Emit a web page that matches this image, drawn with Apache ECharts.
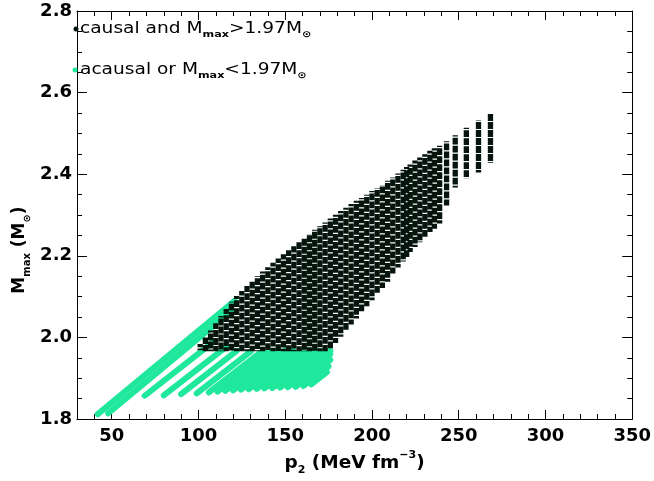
<!DOCTYPE html>
<html><head><meta charset="utf-8">
<script src="https://cdn.jsdelivr.net/npm/echarts@6/dist/echarts.min.js"></script>
<style>html,body{margin:0;padding:0;background:#fff}#c{width:654px;height:481px}</style>
</head><body><div id="c"></div>
<script>
// ---- data ----
const xTickLabels = [50, 100, 150, 200, 250, 300, 350];
const yTickLabels = [1.8, 2.0, 2.2, 2.4, 2.6, 2.8];

// green (acausal or Mmax<1.97) stripes: polylines of [p2, Mmax]
const greenStripes = [
  [[42, 1.812], [121, 2.090]],
  [[48, 1.814], [119, 2.065]],
  [[69, 1.857], [109, 1.990]],
  [[80, 1.858], [116, 1.977]],
  [[90, 1.861], [122, 1.967]],
  [[99, 1.863], [130, 1.965]],
  [[106, 1.865], [137, 1.967]],
  [[111, 1.867], [141, 1.968]],
  [[115.5, 1.869], [145.5, 1.968]],
  [[120, 1.870], [150, 1.968]],
  [[124.5, 1.872], [154.5, 1.968]],
  [[129, 1.873], [159, 1.968]],
  [[133.5, 1.874], [163.5, 1.968]],
  [[138, 1.875], [168, 1.968]],
  [[142.5, 1.876], [172.5, 1.968]],
  [[147, 1.877], [176, 1.968]],
  [[151.5, 1.878], [176, 1.959]],
  [[156, 1.879], [176, 1.945]],
  [[160.5, 1.881], [175, 1.929]],
  [[165, 1.885], [174, 1.915]]
];

// black (causal and Mmax>1.97) point columns: [p2, lowest Mmax, highest Mmax]
const causalP2 = [101,104,107,110,113,116,119,122,125,128,131,134,137,140,143,146,149,152,155,158,161,164,167,170,173,176,179,182,185,188,191,194,197,200,203,206,209,212,215,218,220,222,224.8,227.6,230.5,233.4,236,239,243,248,254.4,261.4,268.3];
const causalLow = [1.972,1.970,1.970,1.970,1.970,1.970,1.970,1.970,1.970,1.970,1.970,1.970,1.970,1.970,1.970,1.970,1.970,1.970,1.970,1.970,1.970,1.970,1.970,1.970,1.970,1.975,1.990,2.005,2.020,2.035,2.050,2.065,2.080,2.095,2.110,2.125,2.140,2.160,2.175,2.190,2.200,2.213,2.225,2.237,2.250,2.262,2.270,2.283,2.327,2.371,2.393,2.408,2.432];
const causalHigh = [1.980,1.996,2.013,2.031,2.049,2.066,2.084,2.098,2.110,2.122,2.134,2.146,2.158,2.168,2.179,2.190,2.200,2.210,2.220,2.230,2.240,2.250,2.260,2.269,2.278,2.288,2.297,2.306,2.314,2.323,2.331,2.338,2.346,2.355,2.362,2.370,2.380,2.388,2.398,2.407,2.414,2.420,2.430,2.437,2.445,2.454,2.460,2.466,2.477,2.492,2.510,2.528,2.546];

// ---- chart ----
const GREEN = '#1fe89c';
const DARK = '#05140d';
const FONT = 'DejaVu Sans';

const columns = causalP2.map((p, i) => [p, causalLow[i], causalHigh[i]]);

const series = greenStripes.map(s => ({
  type: 'line', name: 'acausal', data: s, symbol: 'none', silent: true,
  animation: false, z: 2, xAxisIndex: 0, yAxisIndex: 0,
  lineStyle: { color: GREEN, width: 6, cap: 'round' }
}));
series.push({
  type: 'custom', name: 'causal', data: columns, animation: false, silent: true, z: 3,
  xAxisIndex: 0, yAxisIndex: 0,
  renderItem: function (params, api) {
    const a = api.coord([api.value(0), api.value(1)]);
    const b = api.coord([api.value(0), api.value(2)]);
    const P = 8;
    return {
      type: 'line',
      shape: { x1: a[0], y1: a[1] + 1.5, x2: b[0], y2: b[1] - 1.5 },
      style: { stroke: DARK, lineWidth: 5.3, lineDash: [6.8, 1.2], lineDashOffset: -((a[1] + 0.67 * a[0]) % P) }
    };
  }
});

const tickLabelStyle = { fontFamily: FONT, fontWeight: 'bold', fontSize: 18, color: '#000' };
const lineStyle = { color: '#000', width: 1 };

function xAx(pos, major, labels) {
  return {
    type: 'value', min: 30, max: 350, interval: 10, position: pos,
    axisLine: { show: !major, onZero: false, lineStyle: lineStyle },
    axisTick: major ? { show: true, inside: true, length: 9, customValues: xTickLabels, lineStyle: lineStyle }
                    : { show: true, inside: true, length: 5, lineStyle: lineStyle },
    axisLabel: labels ? Object.assign({ show: true, margin: 8, customValues: xTickLabels, formatter: v => String(v) }, tickLabelStyle) : { show: false },
    splitLine: { show: false },
    name: labels ? '{t|p}{s|2}{t| (MeV fm}{u|−3}{t|)}' : '',
    nameLocation: 'middle', nameGap: 31,
    nameTextStyle: {
      rich: {
        t: { fontFamily: FONT, fontSize: 18.5, fontWeight: 'bold', color: '#000', lineHeight: 26, verticalAlign: 'middle' },
        s: { fontFamily: FONT, fontSize: 11, fontWeight: 'bold', color: '#000', lineHeight: 26, verticalAlign: 'bottom' },
        u: { fontFamily: FONT, fontSize: 11, fontWeight: 'bold', color: '#000', lineHeight: 26, verticalAlign: 'top' }
      }
    }
  };
}
function yAx(pos, major, labels) {
  return {
    type: 'value', min: 1.8, max: 2.8, interval: 0.05, position: pos,
    axisLine: { show: !major, onZero: false, lineStyle: lineStyle },
    axisTick: major ? { show: true, inside: true, length: 10, customValues: yTickLabels, lineStyle: lineStyle }
                    : { show: true, inside: true, length: 5, lineStyle: lineStyle },
    axisLabel: labels ? Object.assign({ show: true, margin: 5, customValues: yTickLabels, formatter: v => v.toFixed(1) }, tickLabelStyle) : { show: false },
    splitLine: { show: false }
  };
}

const legendRich = {
  t: { fontFamily: FONT, fontSize: 15, color: '#000', lineHeight: 20, verticalAlign: 'middle' },
  s: { fontFamily: FONT, fontSize: 9, fontWeight: 'bold', color: '#000', lineHeight: 20, verticalAlign: 'bottom' }
};
const yTitleRich = {
  t: { fontFamily: FONT, fontSize: 17, fontWeight: 'bold', color: '#000', lineHeight: 24, verticalAlign: 'middle' },
  s: { fontFamily: FONT, fontSize: 10, fontWeight: 'bold', color: '#000', lineHeight: 24, verticalAlign: 'bottom' }
};

const option = {
  backgroundColor: '#fff',
  animation: false,
  grid: { left: 77, right: 19, top: 11, bottom: 60, containLabel: false },
  xAxis: [xAx('bottom', false, true), xAx('top', false, false), xAx('bottom', true, false), xAx('top', true, false)],
  yAxis: [yAx('left', false, true), yAx('right', false, false), yAx('left', true, false), yAx('right', true, false)],
  series: series,
  graphic: [
    { type: 'circle', shape: { cx: 76, cy: 29, r: 2.5 }, style: { fill: DARK }, z: 10 },
    { type: 'text', x: 80, y: 29, scaleX: 1.24, z: 10,
      style: { text: '{t|causal and M}{s|max}{t|>1.97M}{s|⊙}', rich: legendRich, verticalAlign: 'middle' } },
    { type: 'circle', shape: { cx: 75, cy: 70, r: 2.5 }, style: { fill: GREEN }, z: 10 },
    { type: 'text', x: 80, y: 70, scaleX: 1.24, z: 10,
      style: { text: '{t|acausal or M}{s|max}{t|<1.97M}{s|⊙}', rich: legendRich, verticalAlign: 'middle' } },
    { type: 'text', x: 20, y: 250, rotation: Math.PI / 2, z: 10,
      style: { text: '{t|M}{s|max}{t| (M}{s|⊙}{t|)}', rich: yTitleRich, align: 'center', verticalAlign: 'middle' } }
  ]
};
const chart = echarts.init(document.getElementById('c'));
chart.setOption(option);
</script>
</body></html>
